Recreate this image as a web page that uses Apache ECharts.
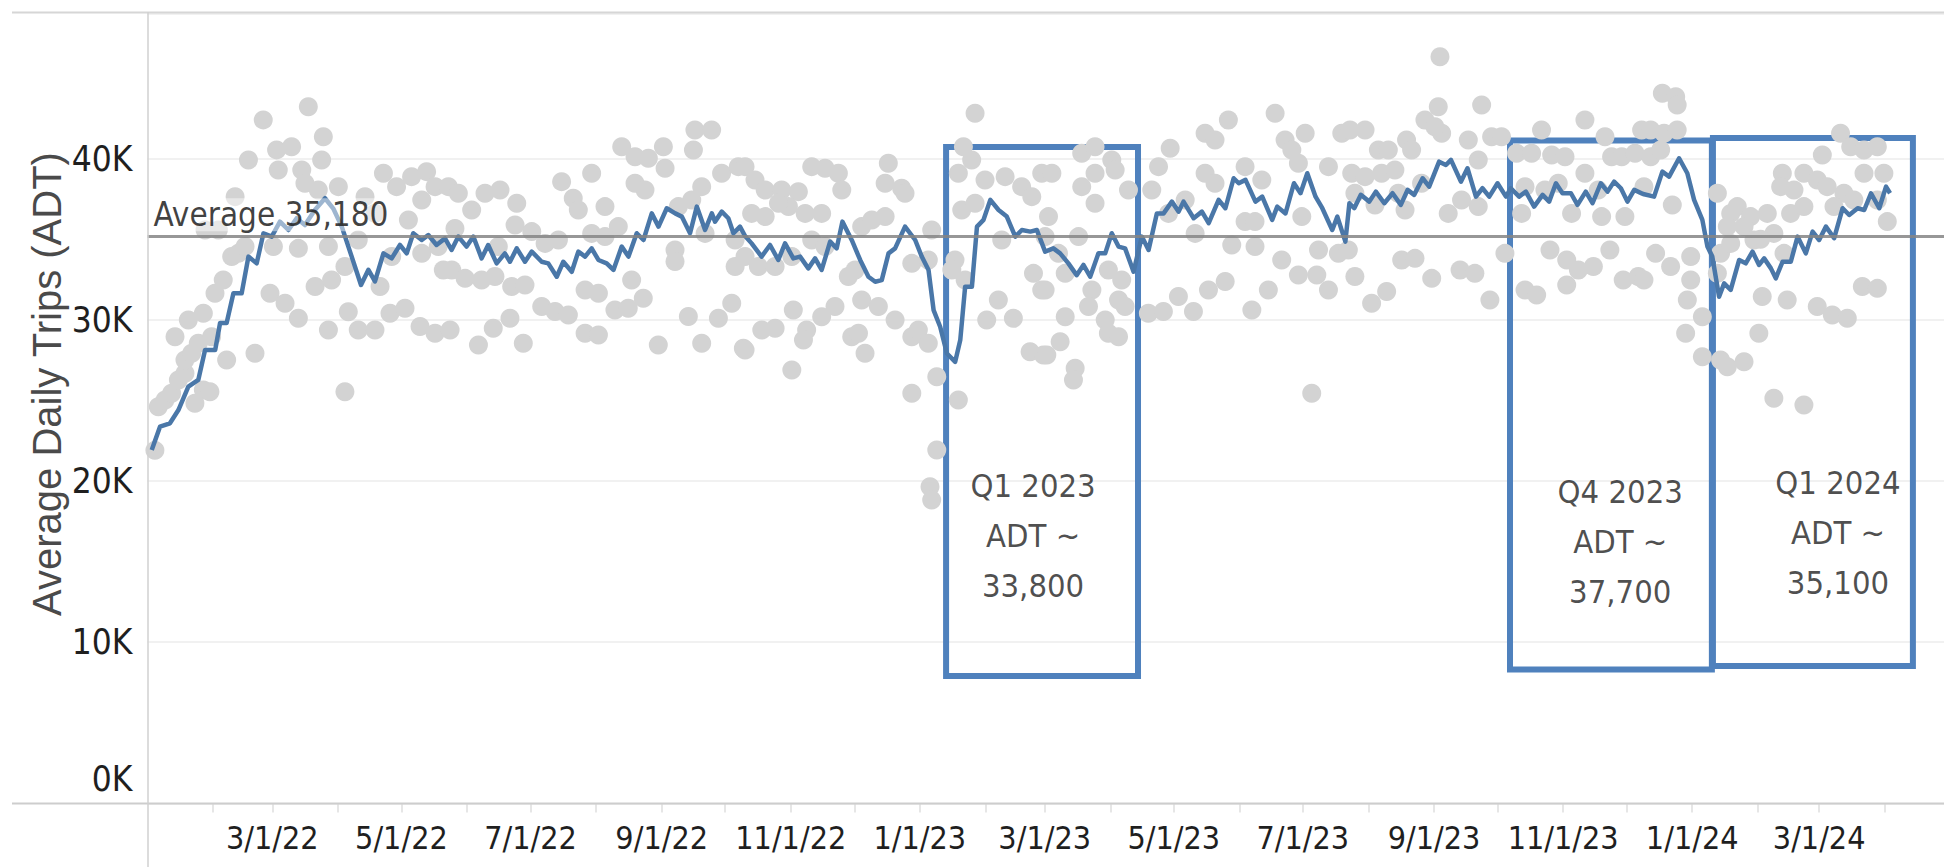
<!DOCTYPE html>
<html>
<head>
<meta charset="utf-8">
<script src="https://cdn.jsdelivr.net/npm/echarts@6/dist/echarts.min.js"></script>
<style>
html,body{margin:0;padding:0;background:#fff;}
#chart{width:1944px;height:867px;}
</style>
</head>
<body>
<div id="chart"></div>
<script>
// ---------------- DATA ----------------
// x values are days after 1 Jan 2022
const xTickLabels = ['3/1/22','5/1/22','7/1/22','9/1/22','11/1/22','1/1/23','3/1/23','5/1/23','7/1/23','9/1/23','11/1/23','1/1/24','3/1/24'];
const yTickLabels = ['0K','10K','20K','30K','40K'];
const yTitle = 'Average Daily Trips (ADT)';
const averageValue = 35180;
const averageLabel = 'Average 35,180';

// rolling average (blue line): [day, trips]
const linePoints = [
[2,21920],[5.9,23370],[10.6,23580],[14.6,24400],[19.3,25850],[24,26270],[27.2,28130],[32,28130],[34.3,29800],[37.4,29800],
[40.6,31640],[44.5,31640],[47.7,33920],[51.6,33500],[54.8,35370],[58.7,35160],[62.6,36090],[66.6,35570],[70.5,36300],[74.4,35880],
[79.1,36810],[83.9,37540],[87.8,36900],[91.8,35780],[96.5,33920],[100.9,32160],[104.4,33100],[107.5,32380],[111.5,34120],[115.4,33810],
[119.3,34640],[122.5,34120],[125.6,35370],[129.6,34950],[132.7,35260],[136.6,34640],[140.6,35050],[143.7,34330],[146.9,35160],[150.8,34540],
[154,35160],[157.9,33810],[161,34640],[165,33500],[168.9,34120],[171.3,33600],[174.5,34430],[178.4,33600],[181.6,34230],[186.3,33600],
[189.4,33500],[193.4,32670],[196.5,33600],[200.5,32980],[203.6,34230],[206.8,33920],[209.9,34430],[213.1,33710],[217,33500],[220.2,33090],
[224.1,34540],[227.3,33920],[231.2,35370],[234.4,34950],[238.3,36600],[241.5,35780],[245.4,36920],[249.4,36600],[252.5,36400],[256.4,35370],
[259.6,37020],[263.5,35570],[266.7,36600],[268.2,36090],[271.4,36710],[274.5,36300],[276.9,35370],[280,35780],[282.4,35200],[285.5,34740],
[290.2,33920],[294.2,34640],[298.1,33710],[301.3,34740],[305.2,33810],[308.4,33920],[312.3,33190],[315.5,33810],[318.6,33090],[322.6,34850],
[325.7,34430],[328.4,36090],[332.8,34950],[336.8,33710],[340.7,32670],[343.9,32360],[347,32460],[350.2,34120],[353.3,34430],[358,35780],
[362.8,34950],[365.9,33920],[369.1,33090],[371.5,30600],[374.6,29570],[377.8,27910],[381.7,27390],[384.1,28740],[386.4,32050],[389.6,32050],
[392,35780],[395.1,36200],[398.3,37440],[402.2,36810],[406.1,36400],[410.1,35160],[413.2,35570],[417.2,35470],[420.3,35570],[424.2,34230],
[428.1,34430],[431.3,34120],[435.2,33500],[439.1,32770],[442.3,33400],[445.5,32670],[449.4,34120],[452.6,34120],[455.7,35370],[458.9,34540],
[462,34430],[466,32980],[469.9,35160],[473.1,34330],[477,36600],[480.2,36600],[484.1,37330],[487.3,36710],[489.6,37330],[494.4,36300],
[498.3,36710],[501.5,35990],[506.2,37440],[509.4,36920],[513.3,38780],[515.7,38470],[518.9,38680],[523.6,37330],[526.8,37640],[531.5,36200],
[533.9,37020],[537.8,36600],[541.8,38470],[544.9,37850],[548.1,39090],[552,37640],[555.2,36920],[559.9,35570],[562.3,36400],[566.1,34850],
[568,37230],[570.3,36920],[573.4,37750],[577.4,37330],[580.5,37950],[584.5,37230],[588.4,37850],[592.3,37130],[595.5,38060],[598.6,37750],
[602.6,38780],[605.7,38260],[610.4,39810],[613.6,39600],[616,39920],[620.7,38570],[623.8,39400],[627.8,37640],[630.9,38160],[634.1,37640],
[638,38470],[642,37640],[644.3,38160],[648.2,37640],[651.4,37950],[655.3,37020],[659.3,37750],[662.4,37330],[665.6,38470],[668.7,37850],
[672.7,37850],[675.8,37130],[679.7,37950],[682.9,37230],[686.8,38470],[690,37950],[693.1,38570],[696.3,38160],[699.4,37330],[702.6,38060],
[706.8,37800],[712,37640],[715.9,39190],[719.1,38880],[723.8,40020],[727.7,39090],[730.9,37440],[734.8,36200],[737.2,34540],[739.5,33920],
[742.7,31430],[745.1,32260],[748.2,31850],[752.2,33710],[755.3,33500],[758.5,34230],[761.6,33400],[764,33810],[767.2,33190],[769.5,32570],
[772.7,33600],[776.6,33600],[779.8,35160],[783.7,34120],[786.9,35470],[790,34950],[793.2,35780],[797.1,35060],[801.1,36920],[804.2,36500],
[808.2,36920],[811.3,36810],[814.5,37850],[818.4,36920],[821.6,38260],[823.5,37850]
];

// daily counts (grey dots): [day, trips]
const dailyPoints = [
[3.5,21900],[5.1,24610],[8.3,25030],[11.4,25440],[14.6,26270],[17.7,26680],[17.7,27510],[20.9,27920],[22.4,24820],[24,28540],
[26.4,25650],[29.5,25540],[13,28950],[19.3,29990],[26.4,30400],[31.9,31640],[35.8,32470],[39.8,33920],[42.9,34120],[46.1,34540],
[37.4,27510],[50.8,27920],[30.3,28950],[54.7,42400],[47.7,39910],[61,40540],[61.8,39290],[68.1,40740],[76,43220],[83.1,41360],
[82.3,39910],[72.9,39290],[74.4,38470],[80.7,38050],[90.2,38260],[41.4,37640],[27.2,35570],[33.5,35570],[59.5,34540],[71.3,34430],
[85.5,34540],[93.3,33300],[79.2,32060],[87,32470],[57.9,31640],[65,31020],[71.3,30090],[85.5,29370],[94.9,30500],[99.6,29370],
[107.5,29370],[93.3,25540],[99.6,34950],[102.8,37640],[107.5,36610],[111.5,39090],[117.7,38260],[124.8,38880],[131.9,39190],[123.3,36190],
[129.6,37430],[135.9,38260],[114.6,30400],[121.7,30710],[128.8,29580],[135.9,29160],[109.9,32060],[115.4,33920],[129.6,34120],[137.4,34540],
[139.8,33090],
[142.2,38260],[146.9,37850],[153.2,36810],[159.5,37850],[166.6,38050],[174.5,37230],[145.3,35670],[173.7,35880],[181.6,35470],[165.8,34540],
[143.8,33090],[150.1,32570],[157.9,32470],[164.2,32680],[172.1,32060],[178.4,32160],[186.3,30820],[192.6,30510],[198.9,30300],[143,29370],
[156.4,28440],[163.4,29470],[171.3,30090],[177.6,28540],[195.7,38570],[201.2,37540],[203.6,36810],[209.9,39090],[216.2,37020],[224.1,40740],
[230.4,40120],[236.7,40020],[243.8,40740],[244.6,39400],[230.4,38470],[235.1,38050],[258,40530],[258.7,41770],[266.6,41770],[261.9,38260],
[271.3,39090],[279.2,39500],[257.2,37430],[250.9,37020],[222.5,35780],[216.2,35160],[209.9,35360],[194.2,34950],[187.9,34740],[206.8,31850],
[213.1,31640],[228.8,32470],[234.3,31330],[220.9,30610],[227.2,30710],[206.8,29160],[213.1,29060],[241.4,28440],[249.3,34330],[249.3,33610],
[255.6,30200],[261.9,28540],[269.8,30090],[276.1,31020],[277.7,33300],[281.6,28230],[263.5,35360],[277.7,34950],
[282.4,39500],[287.1,38670],[291.9,38050],[299.7,38050],[307.6,37950],[313.9,39500],[320.2,39400],[326.5,39090],[328.1,38050],[318.6,36600],
[310.8,36600],[302.9,37020],[285.5,36600],[291.9,36400],[298.2,37230],[282.4,33920],[288.7,33300],[296.6,33300],[304.5,33920],[313.9,34950],
[320.2,34540],[282.4,28130],[290.3,29370],[296.6,29470],[305.2,30610],[311.5,29370],[310,28750],[318.6,30190],[324.9,30820],[304.5,26890],
[332.8,28950],[336,29160],[339.1,27920],[331.2,32680],[334.4,33090],[337.5,31230],[345.4,30820],[353.3,29990],[361.2,28950],[364.3,29370],
[369,28540],[361.2,25440],[373,26470],[373,21920],[369.8,19650],[370.6,18820],[350.1,39710],[348.6,38470],[356.4,38160],[358,37850],
[337.5,35780],[342.3,36190],[348.6,36400],[370.6,35570],[361.2,33500],[369,33710],[381.6,33710],[380.1,33090],[383.2,25030],[391.1,42810],
[385.6,40740],[383.2,39090],[389.5,39910],[395.8,38670],[384.8,36810],[391.1,37230],[386.4,32470],[396.6,29990],[402.1,31230],[409.2,30090],
[405.3,38880],[413.1,38260],[417.9,37640],[422.6,39090],[403.7,34950],[418.7,32880],[422.6,31850],[417.1,28020],[423.4,27820],
[427.4,39090],[425.8,36400],[441.5,40330],[447.8,40740],[455.7,39910],[457.3,39290],[447.8,39090],[441.5,38260],[447.8,37230],[463.6,38050],
[424.2,35160],[430.5,34120],[440,35160],[424.2,31850],[433.7,32880],[446.3,31850],[454.1,33090],[460.4,32470],[444.7,30820],[433.7,30190],
[452.6,29990],[458.9,31230],[462,30820],[431.3,28640],[425,27820],[438.4,26990],[437.6,26270],[454.1,29160],[458.9,28950],[473,30400],
[480.1,30510],[487.2,31440],[494.3,30510],[501.4,31850],[509.3,32370],[521.9,30610],[529.7,31850],[536,33710],[543.9,32780],[552.6,32780],
[558.1,31850],[553.4,34330],[562.8,34120],[512.4,34640],[523.4,34540],[518.7,36090],[523.4,36090],[495.1,35360],[474.6,38050],[477.8,39500],
[483.3,40640],[499.8,41570],[504.5,41150],[510.8,42390],[518.7,39500],[526.6,38670],[532.9,42810],[537.6,41150],[540.8,40530],[547.1,41570],
[545.5,36400],[543.9,39710],[558.1,39500],[564.4,41570],[499.8,39090],[504.5,38470],[550.2,25440],[490.4,37430],[482.5,36600],
[568.3,41770],[575.4,41770],[581.7,40530],[595,41150],[586.4,40530],[569.1,39090],[575.4,38880],[583.2,39090],[589.5,39290],[597.4,40530],
[603.7,42390],[610,43220],[611.6,41570],[608.4,41980],[610.8,46320],[630.5,43330],[624.2,41150],[635.2,41360],[639.9,41360],[628.9,39910],
[567.5,34330],[570.6,32680],[578.5,31020],[585.6,31750],[592.7,33710],[599,33810],[606.9,32570],[620.3,33090],[627.3,32880],[634.4,31230],
[641.5,34120],[614.7,36600],[594.3,36810],[580.1,37120],[628.9,37020],[621,37430],[570.6,37850],[591.1,37850],[602.1,38470],[649.4,36600],
[647,40330],[658.8,41770],[654.1,40330],[663.6,40220],[669.9,40120],[679.3,42390],[688.8,41360],[679.3,39090],[691.9,40120],[685.6,38050],
[696.7,40120],[703,40330],[706.1,41770],[651,31850],[656.5,31540],[662.8,34330],[670.7,33710],[676.2,33090],[683.3,33300],[691.1,34330],
[670.7,32160],[697.4,32470],[704.5,32680],[673,36600],[687.2,36400],[698.2,36400],[660.4,38050],[666.7,38470],[651,38260],
[715.9,44050],[722.2,43840],[722.9,43330],[710.4,41770],[716.7,41570],[722.9,41770],[710.4,40120],[715.1,40530],[707.2,38260],[720.6,37120],
[707.2,32470],[712.7,34120],[719.8,33300],[729.3,33920],[729.3,32470],[727.7,31230],[734.8,30190],[726.9,29160],[734.8,27710],[743.4,27510],
[746.6,27090],[754.5,27400],[741.9,37850],[748.2,36600],[751.3,37020],[757.6,36400],[765.5,36600],[746.6,35780],[754.5,35780],[768.6,35360],
[772.6,39090],[771.8,38260],[778.1,38050],[776.5,36600],[782.8,37020],[782.8,39090],[789.1,38670],[793.8,38260],[791.5,40220],[800.1,41570],
[804.9,40740],[811.2,40530],[817.5,40740],[820.6,39090],[811.2,39090],[801.7,37850],[806.4,37430],[817.5,37430],[797,37020],[822.2,36090],
[763.1,31440],[774.9,31230],[761.5,29160],[789.1,30820],[796.2,30300],[803.3,30090],[810.4,32060],[817.5,31950],[768.6,25130],[782.8,24710],
[741.9,32880],[743.4,34120],[748.2,34740],[759.2,34950],[773.4,34120],[762.3,35000]
];

// annotation boxes: start day, end day, bottom value, top value
const boxes = [
  {from: 377.4, to: 468.1, low: 7900, high: 40720},
  {from: 643.9, to: 739.3, low: 8310, high: 41120},
  {from: 739.8, to: 834.3, low: 8520, high: 41280}
];
// annotation texts: anchor day, anchor value, lines
const notes = [
  {day: 418.5, value: 16590, lines: ['Q1 2023', 'ADT ~', '33,800']},
  {day: 696.0, value: 16220, lines: ['Q4 2023', 'ADT ~', '37,700']},
  {day: 798.9, value: 16770, lines: ['Q1 2024', 'ADT ~', '35,100']}
];

// ---------------- CHART ----------------
// x axis is a value axis counted in days after 1 Jan 2022
const DAY = 86400000;
const X0 = Date.UTC(2022, 0, 1);
const dayOf = (y, m, d) => Math.round((Date.UTC(y, m, d) - X0) / DAY);
const parseMDY = s => { const p = s.split('/').map(Number); return dayOf(2000 + p[2], p[0] - 1, p[1]); };
const labelDays = xTickLabels.map(parseMDY);
const labelMap = {};
labelDays.forEach((t, i) => { labelMap[t] = xTickLabels[i]; });
const monthTicks = [];
for (let m = 1; m <= 27; m++) monthTicks.push(dayOf(2022, m, 1));

const NARROW = "'Liberation Sans Narrow','DejaVu Sans Condensed','Roboto Condensed','Liberation Sans',sans-serif";
const REG = "'Liberation Sans','Noto Sans',sans-serif";
const TXT = '#1f1f1f';

const chart = echarts.init(document.getElementById('chart'), null, {renderer: 'svg'});
chart.setOption({
  animation: false,
  backgroundColor: '#ffffff',
  grid: {left: 147.5, right: 0, top: 13.5, bottom: 63.6, containLabel: false},
  xAxis: {
    type: 'value',
    min: 0,
    max: 849,
    axisLine: {show: false},
    axisTick: {show: true, customValues: monthTicks, length: 9, lineStyle: {color: '#dedede', width: 1.5}},
    axisLabel: {
      show: true, customValues: labelDays, margin: 19,
      formatter: v => labelMap[Math.round(v)] || '',
      fontSize: 32, fontFamily: NARROW, color: TXT
    },
    splitLine: {show: false}
  },
  yAxis: {
    type: 'value', min: 0, max: 49000, interval: 10000,
    axisLine: {show: false}, axisTick: {show: false},
    axisLabel: {
      margin: 15, fontSize: 35, fontFamily: NARROW, color: TXT,
      formatter: v => {
        if (v % 10000 !== 0 || v / 10000 >= yTickLabels.length) return '';
        const s = yTickLabels[v / 10000];
        return v === 0 ? '{z|' + s + '}' : s;
      },
      rich: {z: {fontSize: 35, fontFamily: NARROW, color: TXT, padding: [0, 0, 48, 0]}}
    },
    splitLine: {show: true, lineStyle: {color: '#ececec', width: 1.5}}
  },
  series: [
    {
      name: 'daily', type: 'scatter', z: 1, silent: true,
      symbol: 'circle', symbolSize: 19,
      itemStyle: {color: '#d3d3d3', opacity: 1},
      data: dailyPoints
    },
    {
      name: 'rolling', type: 'line', z: 3, silent: true,
      symbol: 'none', smooth: false,
      lineStyle: {color: '#4a77a8', width: 4.5, join: 'round'},
      data: linePoints
    },
    {
      name: 'average', type: 'line', z: 4, silent: true, data: [],
      markLine: {
        silent: true, symbol: 'none', animation: false,
        lineStyle: {color: '#858585', width: 3, type: 'solid', opacity: 0.85},
        label: {
          show: true, position: 'insideStartTop', formatter: averageLabel,
          fontSize: 33, fontFamily: NARROW, color: TXT,
          backgroundColor: 'rgba(255,255,255,0.55)', padding: [0, 2, 0, 2], distance: [4, 5]
        },
        data: [{yAxis: averageValue}]
      }
    },
    {
      name: 'notes', type: 'scatter', z: 5, silent: true,
      symbol: 'circle', symbolSize: 1, itemStyle: {color: 'rgba(0,0,0,0)'},
      label: {show: true, position: 'inside', fontSize: 32.5, lineHeight: 50, fontFamily: NARROW, color: TXT, align: 'center'},
      data: notes.map(n => ({value: [n.day, n.value], label: {formatter: n.lines.join('\n')}})),
      markArea: {
        silent: true,
        itemStyle: {color: 'rgba(0,0,0,0)', borderColor: '#4f81bd', borderWidth: 6},
        data: boxes.map(b => [{xAxis: b.from, yAxis: b.high}, {xAxis: b.to, yAxis: b.low}])
      }
    }
  ],
  graphic: [
    {type: 'line', silent: true, z: 10, shape: {x1: 12, y1: 12.5, x2: 1944, y2: 12.5}, style: {stroke: '#d6d6d6', lineWidth: 2}},
    {type: 'line', silent: true, z: 10, shape: {x1: 12, y1: 803.5, x2: 1944, y2: 803.5}, style: {stroke: '#cdcdcd', lineWidth: 2}},
    {type: 'line', silent: true, z: 10, shape: {x1: 148, y1: 12, x2: 148, y2: 867}, style: {stroke: '#d0d0d0', lineWidth: 1.5}},
    {type: 'text', silent: true, z: 10, x: 47, y: 384, rotation: Math.PI / 2,
     style: {text: yTitle, fontSize: 40, fontFamily: REG, fill: '#4a4a4a', align: 'center', verticalAlign: 'middle', textAlign: 'center', textVerticalAlign: 'middle'}}
  ]
});
</script>
</body>
</html>
